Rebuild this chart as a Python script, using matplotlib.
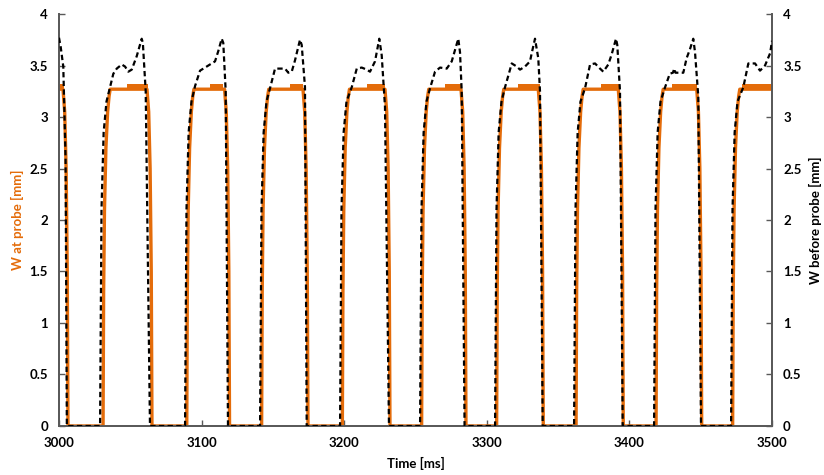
import matplotlib.pyplot as plt
import numpy as np
from matplotlib.ticker import FuncFormatter, MultipleLocator

ORANGE = "#E46C0A"
AXIS_GREY = "#595959"

# W at probe: times [ms] where the width leaves zero and returns to zero
PROBE_RISE = [3030.9, 3089.6, 3142.1, 3198.7, 3254.3, 3306.9, 3362.6, 3418.7, 3472.4]
PROBE_FALL = [3006.3, 3065.2, 3119.6, 3174.6, 3232.1, 3285.4, 3339.6, 3395.7, 3450.7]
PROBE_LEVEL = 3.27
PROBE_HIGH = 3.32
# stretches where the probe signal flickers between the two levels
PROBE_FLICKER = [(3000.0, 3003.5), (3047.7, 3062.4), (3105.9, 3115.0), (3162.0, 3171.1),
                 (3216.0, 3228.6), (3270.7, 3282.6), (3321.9, 3337.3), (3380.1, 3393.4),
                 (3429.9, 3447.4), (3479.0, 3500.0)]
# edge shape of the probe signal (offset ms, W)
PROBE_RISE_EDGE = [(0.0, 0.0), (0.4, 1.3), (1.0, 2.1), (2.0, 2.7), (3.2, 3.05), (4.2, 3.2), (5.0, 3.27)]
PROBE_FALL_EDGE = [(-3.5, 3.27), (-2.3, 3.05), (-1.3, 2.5), (-0.5, 1.5), (0.0, 0.0)]

# W before probe, one list of (t, W) per cycle
BEFORE_CYCLES = [
    [(3000.0, 3.77), (3001.2, 3.68), (3003.0, 3.49), (3004.6, 2.6), (3005.5, 0.0)],
    [(3028.8, 0.0), (3035.8, 3.29), (3038.1, 3.42), (3040.5, 3.47), (3044.0, 3.51), (3046.3, 3.49),
     (3048.6, 3.44), (3051.0, 3.46), (3054.5, 3.59), (3058.0, 3.76), (3058.8, 3.72), (3060.8, 3.25),
     (3063.8, 0.0)],
    [(3088.4, 0.0), (3095.4, 3.3), (3098.9, 3.45), (3102.4, 3.48), (3105.9, 3.51), (3109.4, 3.54),
     (3111.7, 3.64), (3114.1, 3.76), (3115.2, 3.72), (3116.9, 3.25), (3118.5, 0.0)],
    [(3141.0, 0.0), (3148.0, 3.28), (3151.5, 3.47), (3155.0, 3.47), (3158.5, 3.47), (3160.8, 3.43),
     (3163.2, 3.44), (3165.5, 3.55), (3169.0, 3.75), (3170.2, 3.70), (3172.5, 3.29), (3173.7, 0.0)],
    [(3197.1, 0.0), (3205.3, 3.29), (3208.8, 3.47), (3212.3, 3.48), (3215.8, 3.46), (3218.1, 3.44),
     (3221.6, 3.54), (3224.6, 3.76), (3226.3, 3.60), (3228.6, 3.1), (3231.4, 0.0)],
    [(3253.2, 0.0), (3260.2, 3.28), (3263.7, 3.44), (3267.2, 3.48), (3271.9, 3.47), (3275.4, 3.54),
     (3280.0, 3.76), (3281.2, 3.63), (3282.4, 3.25), (3284.4, 0.0)],
    [(3305.8, 0.0), (3312.8, 3.29), (3317.5, 3.52), (3321.0, 3.49), (3323.3, 3.46), (3326.8, 3.49),
     (3330.3, 3.54), (3331.5, 3.62), (3333.8, 3.76), (3336.1, 3.57), (3337.3, 3.25), (3339.2, 0.0)],
    [(3361.2, 0.0), (3368.9, 3.28), (3372.4, 3.51), (3375.9, 3.52), (3379.4, 3.47), (3381.7, 3.44),
     (3385.2, 3.51), (3387.6, 3.61), (3390.6, 3.76), (3391.5, 3.70), (3393.4, 3.25), (3395.3, 0.0)],
    [(3417.3, 0.0), (3424.8, 3.28), (3428.3, 3.42), (3430.5, 3.43), (3431.5, 3.47), (3432.3, 3.43),
     (3437.8, 3.43), (3440.1, 3.57), (3442.5, 3.66), (3444.8, 3.76), (3446.0, 3.63), (3448.3, 3.2),
     (3450.2, 0.0)],
    [(3471.3, 0.0), (3479.9, 3.29), (3483.4, 3.52), (3488.1, 3.52), (3491.6, 3.45), (3495.1, 3.50),
     (3498.7, 3.62), (3500.0, 3.74)],
]
BEFORE_RISE_EDGE = [(1.0, 2.1), (2.5, 2.85), (4.5, 3.15)]


def probe_series():
    t = [3000.0]
    w = [PROBE_LEVEL]
    starts = [None] + PROBE_RISE
    ends = PROBE_FALL + [None]
    for r, f in zip(starts, ends):
        if r is not None:
            for dt, v in PROBE_RISE_EDGE:
                t.append(r + dt)
                w.append(v)
        if f is not None:
            for dt, v in PROBE_FALL_EDGE:
                t.append(f + dt)
                w.append(v)
        else:
            t.append(3500.0)
            w.append(PROBE_LEVEL)
    return np.array(t), np.array(w)


def before_series():
    t, w = [], []
    for cycle in BEFORE_CYCLES:
        for i, (ti, wi) in enumerate(cycle):
            t.append(ti)
            w.append(wi)
            if i == 0 and wi == 0.0:
                for dt, v in BEFORE_RISE_EDGE:
                    t.append(ti + dt)
                    w.append(v)
    return np.array(t), np.array(w)


plt.rcParams["font.family"] = ["Lato", "DejaVu Sans"]
plt.rcParams["font.weight"] = "bold"

fig = plt.figure(figsize=(8.24, 4.75), dpi=100)
ax = fig.add_axes([0.0716, 0.1032, 0.8653, 0.8673])
ax2 = ax.twinx()

pt, pw = probe_series()
ax.plot(pt, pw, color=ORANGE, lw=2.4, solid_joinstyle="round", zorder=2)
for a, b in PROBE_FLICKER:
    ax.fill_between([a, b], PROBE_LEVEL, PROBE_HIGH, color=ORANGE, lw=0, zorder=2)

# dashed curve on the twin axes, drawn over the probe signal
bt, bw = before_series()
ax2.plot(bt, bw, color="black", lw=1.6, dashes=(2.4, 1.5), zorder=3)

fmt = FuncFormatter(lambda v, _: f"{v:g}")
for a in (ax, ax2):
    a.set_xlim(3000, 3500)
    a.set_ylim(0, 4)
    a.yaxis.set_major_locator(MultipleLocator(0.5))
    a.yaxis.set_major_formatter(fmt)
    for side in ("left", "right", "bottom"):
        a.spines[side].set_color(AXIS_GREY)
        a.spines[side].set_linewidth(1.3)
    a.spines["top"].set_visible(False)
    a.tick_params(direction="in", length=4, width=1, color=AXIS_GREY,
                  labelsize=9.5, labelcolor="black", pad=8)

ax.xaxis.set_major_locator(MultipleLocator(100))

ax.set_xlabel("Time [ms]", fontsize=9.5, fontweight="bold", labelpad=6)
ax.set_ylabel("W at probe [mm]", fontsize=9.5, fontweight="bold", color=ORANGE, labelpad=4)
ax2.set_ylabel("W before probe [mm]", fontsize=9.5, fontweight="bold", color="black", labelpad=5)

fig.savefig("out.png", dpi=100)
